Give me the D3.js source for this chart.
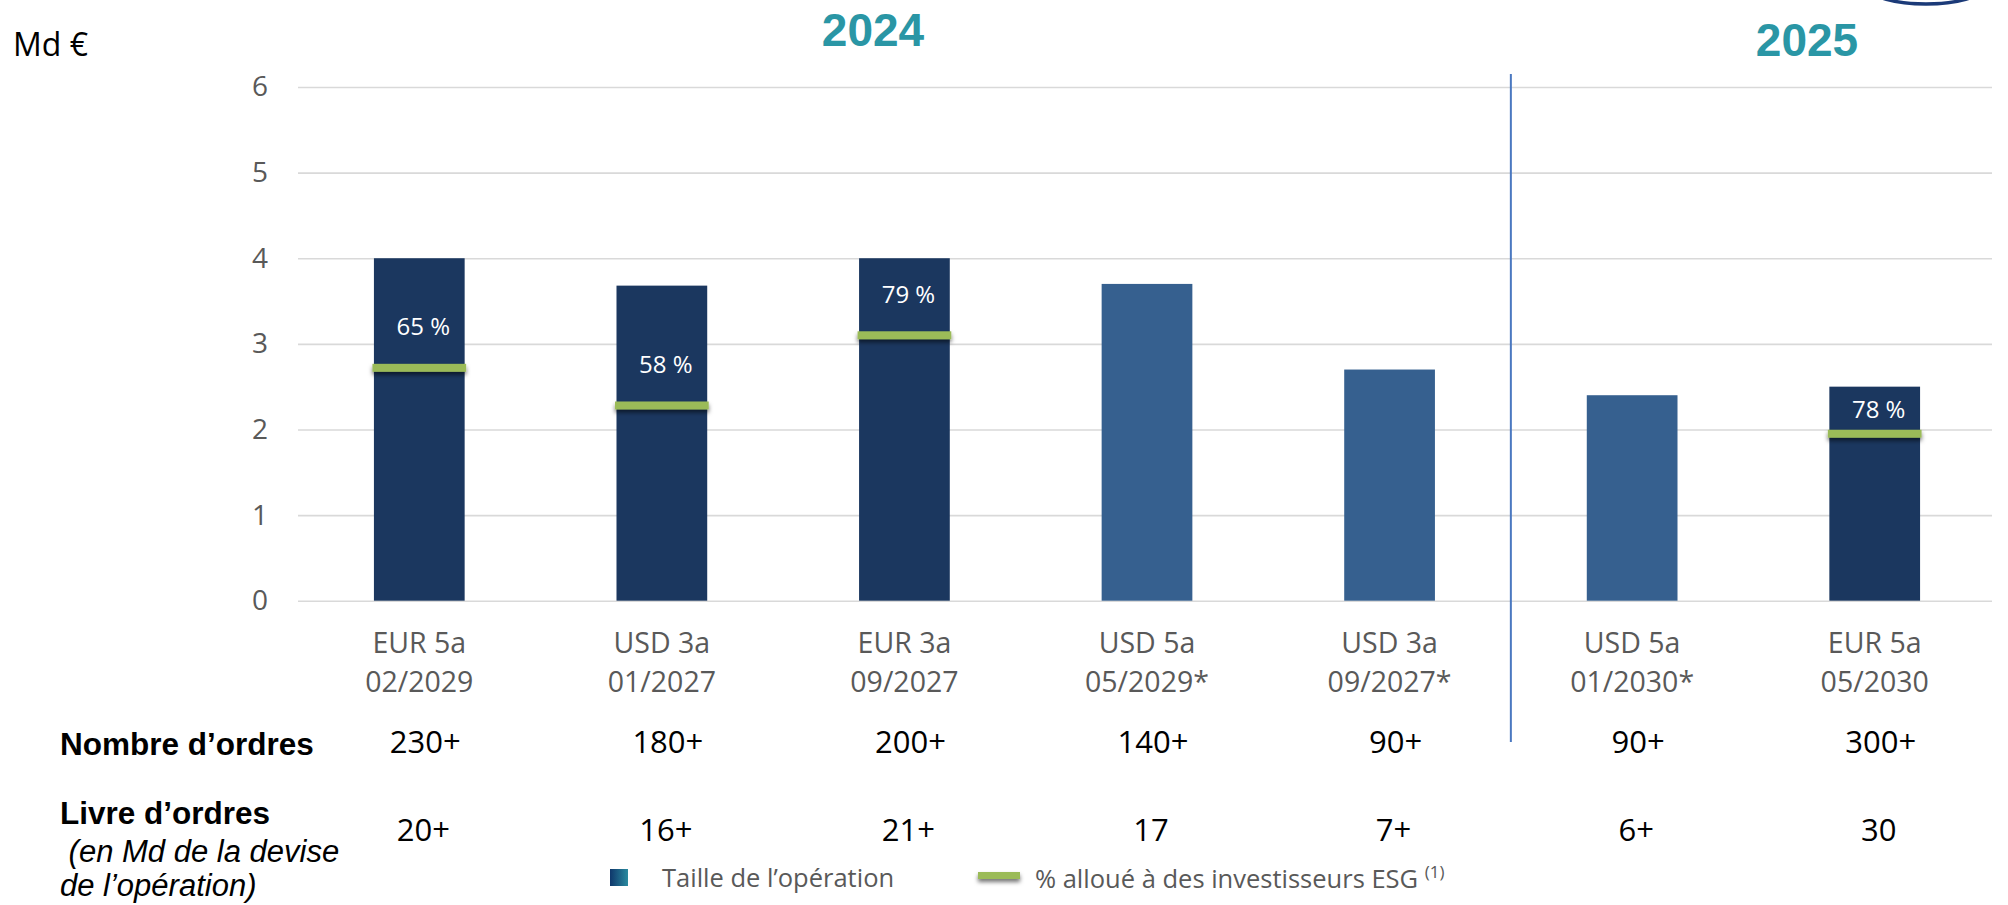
<!DOCTYPE html>
<html>
<head>
<meta charset="utf-8">
<script src="https://cdn.jsdelivr.net/npm/d3@7"></script>
<style>
  body { margin: 0; background: #fff; }
  svg { display: block; }
</style>
</head>
<body>
<div id="chart"></div>
<script>
// données
const instruments = ["EUR 5a", "USD 3a", "EUR 3a", "USD 5a", "USD 3a", "USD 5a", "EUR 5a"]
const echeances = ["02/2029", "01/2027", "09/2027", "05/2029*", "09/2027*", "01/2030*", "05/2030"]
const tailles = [4.0, 3.68, 4.0, 3.7, 2.7, 2.4, 2.5]
const niveauxESG = [2.72, 2.28, 3.1, null, null, null, 1.95]
const partsESG = ["65 %", "58 %", "79 %", null, null, null, "78 %"]
const nombreOrdres = ["230+", "180+", "200+", "140+", "90+", "90+", "300+"]
const livreOrdres = ["20+", "16+", "21+", "17", "7+", "6+", "30"]
const yTicks = [0, 1, 2, 3, 4, 5, 6]

const width = 2008
const height = 905
const plot = { left: 298, right: 1992, top: 87, bottom: 600.7 }
const calibri = "'Open Sans', 'DejaVu Sans', sans-serif"
const arial = "'Liberation Sans', Arial, sans-serif"

const svg = d3.select("#chart").append("svg").attr("width", width).attr("height", height)

const defs = svg.append("defs")
const shadow = defs.append("filter").attr("id", "ombre").attr("x", "-10%").attr("y", "-50%").attr("width", "120%").attr("height", "300%")
shadow.append("feDropShadow").attr("dx", 0).attr("dy", 3).attr("stdDeviation", 2).attr("flood-color", "#000").attr("flood-opacity", 0.55)
const grad = defs.append("linearGradient").attr("id", "degrade").attr("x1", 0).attr("x2", 1).attr("y1", 0).attr("y2", 0)
grad.append("stop").attr("offset", "0%").attr("stop-color", "#0f376b")
grad.append("stop").attr("offset", "100%").attr("stop-color", "#2a8a9f")

// échelles
const keys = d3.range(instruments.length)
const x = d3.scaleBand().domain(keys).range([plot.left, 1996]).paddingInner(0.626).paddingOuter(0.313)
const y = d3.scaleLinear().domain([0, 6]).range([plot.bottom, plot.top])

// axe Y + grille
const yAxisGroup = svg.append("g").attr("transform", `translate(${plot.left},0)`)
  .call(d3.axisLeft(y).tickValues(yTicks).tickSize(-(plot.right - plot.left)).tickPadding(30).tickFormat(d3.format("d")))
yAxisGroup.select(".domain").remove()
yAxisGroup.selectAll(".tick line").attr("stroke", "#d9d9d9").attr("stroke-width", 1.6)
yAxisGroup.selectAll(".tick text").attr("fill", "#595959").style("font-family", calibri).style("font-size", "28px")

// axe X (deux lignes)
const xAxisGroup = svg.append("g").attr("transform", `translate(0,${plot.bottom})`)
  .call(d3.axisBottom(x).tickSize(0).tickFormat(""))
xAxisGroup.select(".domain").remove()
xAxisGroup.selectAll(".tick text").each(function (d) {
  const t = d3.select(this).attr("y", 0).attr("dy", null)
    .attr("fill", "#595959").style("font-family", calibri).style("font-size", "28.5px")
  t.append("tspan").attr("x", 0).attr("y", 52).text(instruments[d])
  t.append("tspan").attr("x", 0).attr("y", 91).text(echeances[d])
})

// séparateur 2024 / 2025
const sepX = x(5) - (x.step() - x.bandwidth()) / 2
svg.append("line").attr("x1", sepX).attr("x2", sepX).attr("y1", 74).attr("y2", 742)
  .attr("stroke", "#4a78c0").attr("stroke-width", 2)

// barres
const elementGroup = svg.append("g")
elementGroup.selectAll("rect.barre").data(keys).join("rect")
  .attr("class", "barre")
  .attr("x", d => x(d))
  .attr("y", d => y(tailles[d]))
  .attr("width", x.bandwidth())
  .attr("height", d => y(0) - y(tailles[d]))
  .attr("fill", d => echeances[d].includes("*") ? "#36608f" : "#1b375f")

// repères ESG
const esg = keys.filter(d => niveauxESG[d] != null)
elementGroup.selectAll("rect.esg").data(esg).join("rect")
  .attr("class", "esg")
  .attr("x", d => x(d) - 1.5)
  .attr("y", d => y(niveauxESG[d]) - 4)
  .attr("width", x.bandwidth() + 3)
  .attr("height", 8)
  .attr("fill", "#9bbb59")
  .attr("filter", "url(#ombre)")

elementGroup.selectAll("text.pct").data(esg).join("text")
  .attr("class", "pct")
  .attr("x", d => x(d) + x.bandwidth() / 2 + 4)
  .attr("y", d => Math.max(y(niveauxESG[d]) - 41, y(tailles[d]) + 23))
  .attr("dy", "0.35em")
  .attr("text-anchor", "middle")
  .attr("fill", "#fff")
  .style("font-family", calibri).style("font-size", "24px")
  .text(d => partsESG[d])

// années
svg.append("text").attr("x", 873).attr("y", 46).attr("text-anchor", "middle")
  .attr("fill", "#2a96a5").style("font-family", arial).style("font-weight", "bold").style("font-size", "46px").text("2024")
svg.append("text").attr("x", 1807).attr("y", 56).attr("text-anchor", "middle")
  .attr("fill", "#2a96a5").style("font-family", arial).style("font-weight", "bold").style("font-size", "46px").text("2025")

// logo coupé en haut à droite
svg.append("ellipse").attr("cx", 1926).attr("cy", -12).attr("rx", 56).attr("ry", 16)
  .attr("fill", "none").attr("stroke", "#1b3a78").attr("stroke-width", 3.5)

svg.append("text").attr("x", 13).attr("y", 56).attr("fill", "#000")
  .style("font-family", calibri).style("font-size", "32px").text("Md €")

// lignes du tableau
const rowGroup = svg.append("g")
rowGroup.append("text").attr("x", 60).attr("y", 755).style("font-family", arial).style("font-weight", "bold").style("font-size", "31.5px").text("Nombre d’ordres")
rowGroup.append("text").attr("x", 60).attr("y", 824).style("font-family", arial).style("font-weight", "bold").style("font-size", "31.5px").text("Livre d’ordres")
rowGroup.append("text").attr("x", 60).attr("y", 862).style("font-family", arial).style("font-style", "italic").style("font-size", "31px").attr("xml:space", "preserve").text(" (en Md de la devise")
rowGroup.append("text").attr("x", 60).attr("y", 896).style("font-family", arial).style("font-style", "italic").style("font-size", "31px").text("de l’opération)")

rowGroup.selectAll("text.nb").data(keys).join("text").attr("class", "nb")
  .attr("x", d => x(d) + x.bandwidth() / 2 + 6).attr("y", 753).attr("text-anchor", "middle")
  .style("font-family", calibri).style("font-size", "31px").text(d => nombreOrdres[d])
rowGroup.selectAll("text.livre").data(keys).join("text").attr("class", "livre")
  .attr("x", d => x(d) + x.bandwidth() / 2 + 4).attr("y", 841).attr("text-anchor", "middle")
  .style("font-family", calibri).style("font-size", "31px").text(d => livreOrdres[d])

// légende
const legend = svg.append("g")
legend.append("rect").attr("x", 610).attr("y", 869).attr("width", 18).attr("height", 17).attr("fill", "url(#degrade)")
legend.append("text").attr("x", 662).attr("y", 887).attr("fill", "#595959").style("font-family", calibri).style("font-size", "25.5px").text("Taille de l’opération")
legend.append("rect").attr("x", 978).attr("y", 872).attr("width", 42).attr("height", 7).attr("fill", "#9bbb59").attr("filter", "url(#ombre)")
const lt = legend.append("text").attr("x", 1035).attr("y", 888).attr("fill", "#595959").style("font-family", calibri).style("font-size", "25.5px")
lt.append("tspan").text("% alloué à des investisseurs ESG ")
lt.append("tspan").attr("dy", -10).style("font-size", "17px").text("(1)")
</script>
</body>
</html>
